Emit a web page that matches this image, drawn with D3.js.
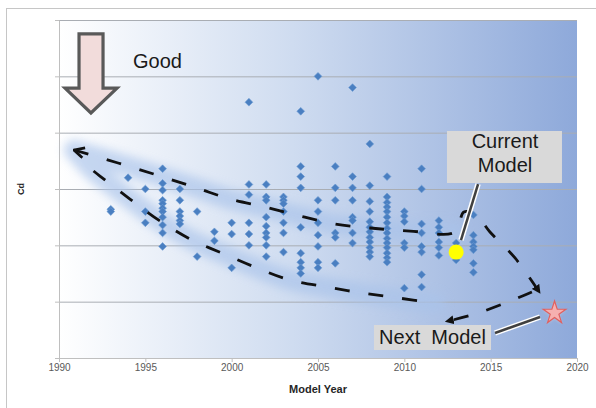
<!DOCTYPE html>
<html><head><meta charset="utf-8">
<script src="https://cdn.jsdelivr.net/npm/d3@7"></script>
<style>
html,body{margin:0;padding:0;background:#fff;}
svg{display:block;font-family:"Liberation Sans",Arial,sans-serif;}
</style>
</head><body>
<svg id="c" width="596" height="408"></svg>
<script>
// ---------- data ----------
const xTicks = [1990, 1995, 2000, 2005, 2010, 2015, 2020];
const yTicks = [0.20, 0.25, 0.30, 0.35, 0.40, 0.45, 0.50];
const xTitle = "Model Year";
const yTitle = "Cd";

const modelYears = [1993,1994,1995,1996,1997,1998,1999,2000,2001,2002,2003,2004,2005,2006,2007,2008,2009,2010,2011,2012,2013,2014];
const cdByYear = [
  [0.332,0.330],
  [0.360],
  [0.350,0.330,0.320],
  [0.368,0.355,0.349,0.340,0.337,0.333,0.330,0.325,0.318,0.311,0.299],
  [0.350,0.340,0.330,0.326,0.322,0.319],
  [0.330,0.290],
  [0.312,0.304],
  [0.320,0.310,0.280],
  [0.427,0.354,0.345,0.320,0.310,0.300],
  [0.354,0.343,0.340,0.325,0.317,0.311,0.307,0.300,0.290],
  [0.343,0.340,0.337,0.330,0.320,0.311,0.294],
  [0.419,0.370,0.361,0.351,0.316,0.293,0.285,0.280,0.275],
  [0.450,0.340,0.330,0.320,0.309,0.299,0.285,0.280],
  [0.370,0.351,0.340,0.311,0.307,0.284],
  [0.440,0.361,0.351,0.340,0.325,0.322,0.311,0.302],
  [0.390,0.353,0.339,0.330,0.321,0.316,0.312,0.307,0.303,0.298,0.294,0.290],
  [0.361,0.343,0.338,0.334,0.330,0.325,0.320,0.315,0.311,0.306,0.302,0.298,0.293,0.289,0.285],
  [0.330,0.326,0.321,0.302,0.298,0.262],
  [0.368,0.350,0.319,0.311,0.299,0.294,0.274,0.263],
  [0.322,0.316,0.311,0.303,0.298,0.291],
  [0.302,0.287],
  [0.327,0.309,0.303,0.299,0.296,0.284,0.276]
];

const currentModel = {year: 2013.0, cd: 0.294, label: ["Current", "Model"]};
const nextModel = {year: 2018.7, cd: 0.240, label: "Next  Model"};

// trend loop (year, Cd)
const loopUpper = [[1990.87,0.3846],[1993.42,0.3731],[1995.85,0.3615],[1997.99,0.3509],[1999.90,0.3411],[2001.93,0.3340],[2003.96,0.3260],[2005.98,0.3189],[2008.01,0.3154],[2010.33,0.3127],[2012.93,0.3118],[2013.45,0.3296],[2014.15,0.3269],[2014.96,0.3118],[2016.41,0.2888],[2017.74,0.2603]];
const loopLower = [[1992.00,0.3660],[1992.37,0.3615],[1994.11,0.3411],[1995.85,0.3216],[1997.70,0.3047],[1999.56,0.2923],[2001.47,0.2799],[2003.38,0.2692],[2005.52,0.2630],[2007.55,0.2577],[2009.63,0.2533],[2011.78,0.2488]];
const loopReturn = [[2017.39,0.2586],[2016.0,0.2497],[2014.09,0.2390],[2012.60,0.2330]];

// ---------- layout ----------
const svg = d3.select("#c");
const L = 59, T = 20, R = 577, B = 358;
const x = d3.scaleLinear().domain([1990, 2020]).range([L, R]);
const y = d3.scaleLinear().domain([0.20, 0.50]).range([B, T]);

const defs = svg.append("defs");
const grad = defs.append("linearGradient").attr("id","bg").attr("x1","0").attr("x2","1").attr("y1","0").attr("y2","0");
grad.append("stop").attr("offset","0%").attr("stop-color","#ffffff");
grad.append("stop").attr("offset","45%").attr("stop-color","#cfdcf0");
grad.append("stop").attr("offset","100%").attr("stop-color","#8ea9da");
defs.append("filter").attr("id","blur").attr("x","-20%").attr("y","-50%").attr("width","140%").attr("height","200%")
  .append("feGaussianBlur").attr("stdDeviation", 5);
const sh = defs.append("filter").attr("id","shadow").attr("x","-50%").attr("y","-50%").attr("width","200%").attr("height","200%");
sh.append("feGaussianBlur").attr("stdDeviation", 1.5);

defs.append("marker").attr("id","ah").attr("viewBox","0 0 10 10").attr("refX",5).attr("refY",5)
  .attr("markerWidth",3.2).attr("markerHeight",3.2).attr("orient","auto-start-reverse")
  .append("path").attr("d","M0,0 L10,5 L0,10 z").attr("fill","#111");
defs.append("marker").attr("id","chev").attr("viewBox","0 0 10 10").attr("refX",9).attr("refY",5)
  .attr("markerWidth",4.5).attr("markerHeight",4.5).attr("orient","auto-start-reverse")
  .append("path").attr("d","M1,1 L9,5 L1,9").attr("fill","none").attr("stroke","#111").attr("stroke-width",2.2);

// outer frame
svg.append("rect").attr("x",6.5).attr("y",8.5).attr("width",620).attr("height",420)
  .attr("fill","#fff").attr("stroke","#c6c6c6").attr("stroke-width",1);

// plot background
svg.append("rect").attr("x",L).attr("y",T).attr("width",R-L).attr("height",B-T).attr("fill","url(#bg)");

// gridlines
svg.append("g").attr("transform",`translate(${L},0)`)
  .call(d3.axisLeft(y).tickValues(yTicks).tickSize(-(R-L)).tickFormat(""))
  .call(g => g.select(".domain").remove())
  .call(g => g.selectAll("line").attr("stroke","#a9adb3").attr("stroke-width",1));
// y axis line + small ticks
svg.append("g").attr("transform",`translate(${L},0)`)
  .call(d3.axisLeft(y).tickValues(yTicks).tickSize(4).tickSizeOuter(0).tickFormat(""))
  .call(g => g.select(".domain").attr("stroke","#bfbfbf"))
  .call(g => g.selectAll("line").attr("stroke","#bfbfbf"));
// x axis
svg.append("g").attr("transform",`translate(0,${B})`)
  .call(d3.axisBottom(x).tickValues(xTicks).tickSize(4).tickSizeOuter(0).tickFormat(d3.format("d")))
  .call(g => g.select(".domain").attr("stroke","#bfbfbf"))
  .call(g => g.selectAll("line").attr("stroke","#bfbfbf"))
  .call(g => g.selectAll("text").attr("fill","#595959").attr("font-size",10).attr("dy","0.55em")
     .attr("font-family","'Liberation Sans',Arial,sans-serif"));

svg.append("text").attr("x", (L+R)/2).attr("y", 393).attr("text-anchor","middle")
  .attr("font-size",11).attr("font-weight","bold").attr("fill","#262626").text(xTitle);
svg.append("text").attr("transform",`translate(24,${y(0.35)}) rotate(-90)`).attr("text-anchor","middle")
  .attr("font-size",9).attr("font-weight","bold").attr("fill","#262626").text(yTitle);

// glow band around trend loop
const line = d3.line().x(d=>x(d[0])).y(d=>y(d[1])).curve(d3.curveCatmullRom.alpha(0.5));
const glowLower = [[1990.87,0.3846]].concat(loopLower);
const glow = svg.append("g").attr("filter","url(#blur)").attr("opacity",0.65);
glow.append("path").attr("d", line(loopUpper.slice(0,11))).attr("fill","none").attr("stroke","#a9c3ea").attr("stroke-width",20).attr("stroke-linecap","round");
glow.append("path").attr("d", line(glowLower)).attr("fill","none").attr("stroke","#a9c3ea").attr("stroke-width",20).attr("stroke-linecap","round");

// points
const pts = [];
modelYears.forEach((yr,i)=>cdByYear[i].forEach(v=>pts.push([yr,v])));
svg.append("g").selectAll("path").data(pts).join("path")
  .attr("transform", d=>`translate(${x(d[0])},${y(d[1])}) rotate(45)`)
  .attr("d", d3.symbol(d3.symbolSquare, 30))
  .attr("fill","#4a7fc1").attr("stroke","#6d9bd3").attr("stroke-width",0.6);

// dashed trend loop
const dash = svg.append("g").attr("fill","none").attr("stroke","#111").attr("stroke-width",2.8)
  .attr("stroke-dasharray","15,19");
dash.append("path").attr("d", line(loopUpper)).attr("marker-start","url(#chev)").attr("marker-end","url(#ah)");
dash.append("path").attr("d", line(loopLower));
dash.append("path").attr("d", line(loopReturn)).attr("marker-end","url(#ah)");

// current model
svg.append("circle").attr("cx",x(currentModel.year)).attr("cy",y(currentModel.cd)).attr("r",7.5).attr("fill","#ffff00");

// callout helper
function pointer(p1, p2){
  const g = svg.append("g");
  g.append("line").attr("x1",x(p1[0])).attr("y1",y(p1[1])).attr("x2",x(p2[0])).attr("y2",y(p2[1]))
    .attr("stroke","#ffffff").attr("stroke-width",5.5);
  g.append("line").attr("x1",x(p1[0])).attr("y1",y(p1[1])).attr("x2",x(p2[0])).attr("y2",y(p2[1]))
    .attr("stroke","#404040").attr("stroke-width",2.5);
}
// current model callout
pointer([2014.27,0.3544],[2013.28,0.3047]);
svg.append("rect").attr("x",x(2012.47)).attr("y",y(0.4015)).attr("width",x(2019.13)-x(2012.47)).attr("height",y(0.3553)-y(0.4015))
  .attr("fill","#d9d9d9");
svg.append("text").attr("x",x(2015.83)).attr("y",y(0.3863)).attr("text-anchor","middle").attr("font-size",20).attr("fill","#1a1a1a").text(currentModel.label[0]);
svg.append("text").attr("x",x(2015.83)).attr("y",y(0.3650)).attr("text-anchor","middle").attr("font-size",20).attr("fill","#1a1a1a").text(currentModel.label[1]);

// next model callout
pointer([2015.25,0.2222],[2017.86,0.2364]);
svg.append("rect").attr("x",x(2008.24)).attr("y",y(0.2293)).attr("width",x(2015.02)-x(2008.24)).attr("height",y(0.2071)-y(0.2293))
  .attr("fill","#d9d9d9");
svg.append("text").attr("x",x(2011.63)).attr("y",y(0.2124)).attr("text-anchor","middle").attr("font-size",20).attr("fill","#1a1a1a")
  .style("white-space","pre").text(nextModel.label);

// star
svg.append("path").attr("transform",`translate(${x(nextModel.year)},${y(nextModel.cd)+1}) `)
  .attr("d", d3.symbol(d3.symbolStar, 175)).attr("fill","#c8c8d8").attr("opacity",0.6).attr("filter","url(#shadow)");
svg.append("path").attr("transform",`translate(${x(nextModel.year)},${y(nextModel.cd)})`)
  .attr("d", d3.symbol(d3.symbolStar, 160)).attr("fill","#f6b0b0").attr("stroke","#e0605f").attr("stroke-width",1.2);

// "Good" arrow
const arrowPts = [[1991.16,0.4876],[1992.55,0.4876],[1992.55,0.4396],[1993.36,0.4396],[1991.85,0.4175],[1990.35,0.4396],[1991.16,0.4396]];
svg.append("path").attr("d", d3.line().x(d=>x(d[0])).y(d=>y(d[1]))(arrowPts)+"Z")
  .attr("fill","#f2dcdb").attr("stroke","#595959").attr("stroke-width",3.2).attr("stroke-linejoin","miter");
svg.append("text").attr("x",x(1994.29)).attr("y",y(0.4574)).attr("font-size",20).attr("fill","#1a1a1a").text("Good");
</script>
</body></html>
